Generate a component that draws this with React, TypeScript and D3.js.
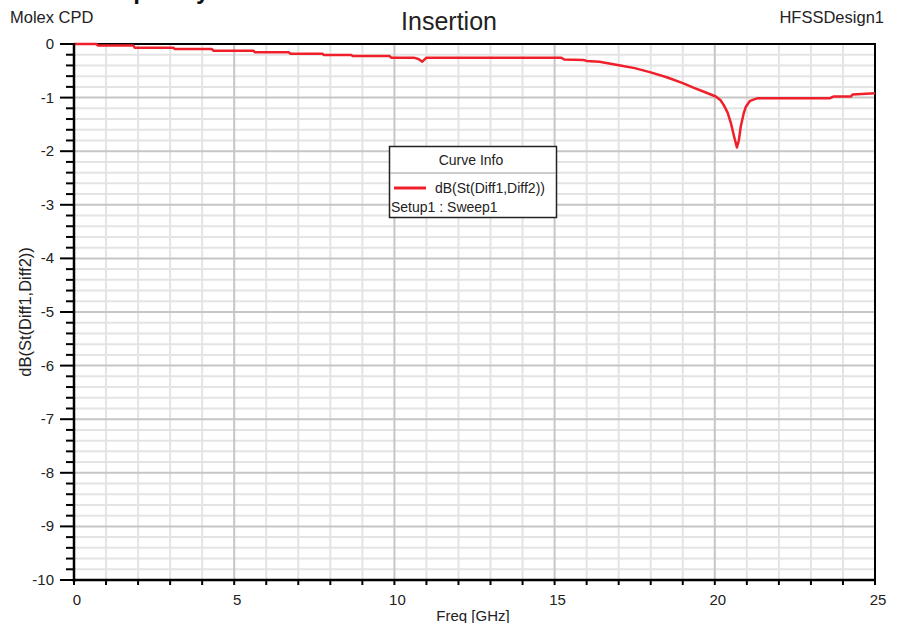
import React from "react";
import * as d3 from "d3";

// Freq [GHz] and dB(St(Diff1,Diff2))
const freqGHz = [
  0, 0.7, 0.75, 1.85, 1.9, 3.1, 3.15, 4.3, 4.35, 5.6, 5.65, 6.7, 6.75, 7.75,
  7.8, 8.65, 8.7, 9.85, 9.9, 10.6, 10.75, 10.87, 11.0, 15.2, 15.3, 15.9, 16.0,
  16.4, 17.05, 17.5, 18.0, 18.5, 19.0, 19.35, 19.7, 20.03, 20.18, 20.28, 20.4,
  20.5, 20.6, 20.69, 20.75, 20.81, 20.9, 20.97, 21.1, 21.34, 23.6, 23.7, 24.25,
  24.3, 25,
];
const insertionDb = [
  0, 0, -0.03, -0.03, -0.07, -0.07, -0.095, -0.095, -0.125, -0.125, -0.155,
  -0.155, -0.18, -0.18, -0.205, -0.205, -0.225, -0.225, -0.255, -0.255, -0.28,
  -0.33, -0.255, -0.255, -0.29, -0.3, -0.315, -0.33, -0.4, -0.45, -0.53, -0.62,
  -0.73, -0.82, -0.9, -0.98, -1.05, -1.14, -1.28, -1.47, -1.72, -1.93, -1.8,
  -1.54, -1.3, -1.17, -1.06, -1.01, -1.01, -0.98, -0.98, -0.94, -0.92,
];

const xTickLabels = [0, 5, 10, 15, 20, 25];
const yTickLabels = [0, -1, -2, -3, -4, -5, -6, -7, -8, -9, -10];

const W = 901;
const H = 623;
const margin = { left: 74, right: 26, top: 44, bottom: 43 };
const font = "'Liberation Sans', Arial, sans-serif";
const textColor = "#222";
const red = "#f0202a";

export default function App() {
  const x = d3.scaleLinear().domain([0, 25]).range([margin.left, W - margin.right]);
  const y = d3.scaleLinear().domain([-10, 0]).range([H - margin.bottom, margin.top]);

  const xMinor = d3.range(0, 26, 1).filter((v) => v % 5 !== 0);
  const yMinor = d3.range(-50, 1, 1).map((v) => v / 5).filter((v) => Math.abs(v % 1) > 1e-6);

  const points: [number, number][] = freqGHz.map((f, i) => [f, insertionDb[i]]);
  const line = d3
    .line<[number, number]>()
    .x((d) => x(d[0]))
    .y((d) => y(d[1]));

  const [x0, x1] = x.range();
  const [y0, y1] = [y(0), y(-10)];

  return (
    <svg
      width={W}
      height={H}
      style={{ position: "absolute", left: 0, top: 0, background: "#fff" }}
      fontFamily={font}
    >
      <rect width={W} height={H} fill="#fff" />
      {/* page title, mostly above the picture's top edge */}
      <text x={88} y={-1} fontSize={24} fontWeight="bold" fill="#111">
        Frequency
      </text>
      <text x={10} y={23} fontSize={16.5} fill={textColor}>
        Molex CPD
      </text>
      <text x={884} y={23} fontSize={16.5} fill={textColor} textAnchor="end">
        HFSSDesign1
      </text>
      <text x={449} y={30} fontSize={25} fill={textColor} textAnchor="middle">
        Insertion
      </text>

      {/* grid */}
      <g>
        {xMinor.map((v) => (
          <line key={"xm" + v} x1={x(v)} x2={x(v)} y1={y0} y2={y1} stroke="#e4e4e4" strokeWidth={2} />
        ))}
        {yMinor.map((v) => (
          <line key={"ym" + v} x1={x0} x2={x1} y1={y(v)} y2={y(v)} stroke="#e4e4e4" strokeWidth={2} />
        ))}
        {xTickLabels.map((v) => (
          <line key={"xM" + v} x1={x(v)} x2={x(v)} y1={y0} y2={y1} stroke="#c6c6c6" strokeWidth={2} />
        ))}
        {yTickLabels.map((v) => (
          <line key={"yM" + v} x1={x0} x2={x1} y1={y(v)} y2={y(v)} stroke="#c6c6c6" strokeWidth={2} />
        ))}
      </g>

      {/* frame */}
      <line x1={x0} x2={x1 + 1} y1={y0} y2={y0} stroke="#000" strokeWidth={2} />
      <line x1={x1} x2={x1} y1={y0} y2={y1} stroke="#000" strokeWidth={2} />

      {/* curve */}
      <path d={line(points) || ""} fill="none" stroke={red} strokeWidth={2.5} strokeLinejoin="round" />

      {/* axes */}
      <line x1={x0} x2={x0} y1={y0 - 1} y2={y1 + 2} stroke="#000" strokeWidth={2.5} />
      <line x1={x0 - 1} x2={x1 + 1} y1={y1} y2={y1} stroke="#000" strokeWidth={2.5} />
      {yTickLabels.map((v) => (
        <g key={"yt" + v}>
          <line x1={x0 - 14} x2={x0} y1={y(v)} y2={y(v)} stroke="#000" strokeWidth={2} />
          <text x={54} y={y(v) + 5} fontSize={15} fill={textColor} textAnchor="end">
            {v}
          </text>
        </g>
      ))}
      {yMinor.map((v) => (
        <line key={"ymt" + v} x1={x0 - 8} x2={x0} y1={y(v)} y2={y(v)} stroke="#000" strokeWidth={2} />
      ))}
      {d3.range(0, 26, 1).map((v) => (
        <line key={"xt" + v} x1={x(v)} x2={x(v)} y1={y1} y2={y1 + 5} stroke="#000" strokeWidth={2} />
      ))}
      {xTickLabels.map((v) => (
        <text key={"xl" + v} x={x(v) + 3} y={605} fontSize={15} fill={textColor} textAnchor="middle">
          {v}
        </text>
      ))}
      <text x={473} y={621} fontSize={15} fill={textColor} textAnchor="middle">
        Freq [GHz]
      </text>
      <text
        transform={`translate(31, ${312}) rotate(-90)`}
        fontSize={16.5}
        fill={textColor}
        textAnchor="middle"
      >
        dB(St(Diff1,Diff2))
      </text>

      {/* legend */}
      <g>
        <rect x={389.5} y={146.5} width={167} height={71} fill="#fff" stroke="#222" strokeWidth={1.5} />
        <line x1={390} x2={556} y1={173} y2={173} stroke="#999" strokeWidth={1} />
        <text x={471} y={165} fontSize={14} fill={textColor} textAnchor="middle">
          Curve Info
        </text>
        <line x1={394} x2={426} y1={188} y2={188} stroke={red} strokeWidth={3} />
        <text x={435} y={193} fontSize={14} fill={textColor}>
          dB(St(Diff1,Diff2))
        </text>
        <text x={391} y={212} fontSize={14} fill={textColor}>
          Setup1 : Sweep1
        </text>
      </g>
    </svg>
  );
}
